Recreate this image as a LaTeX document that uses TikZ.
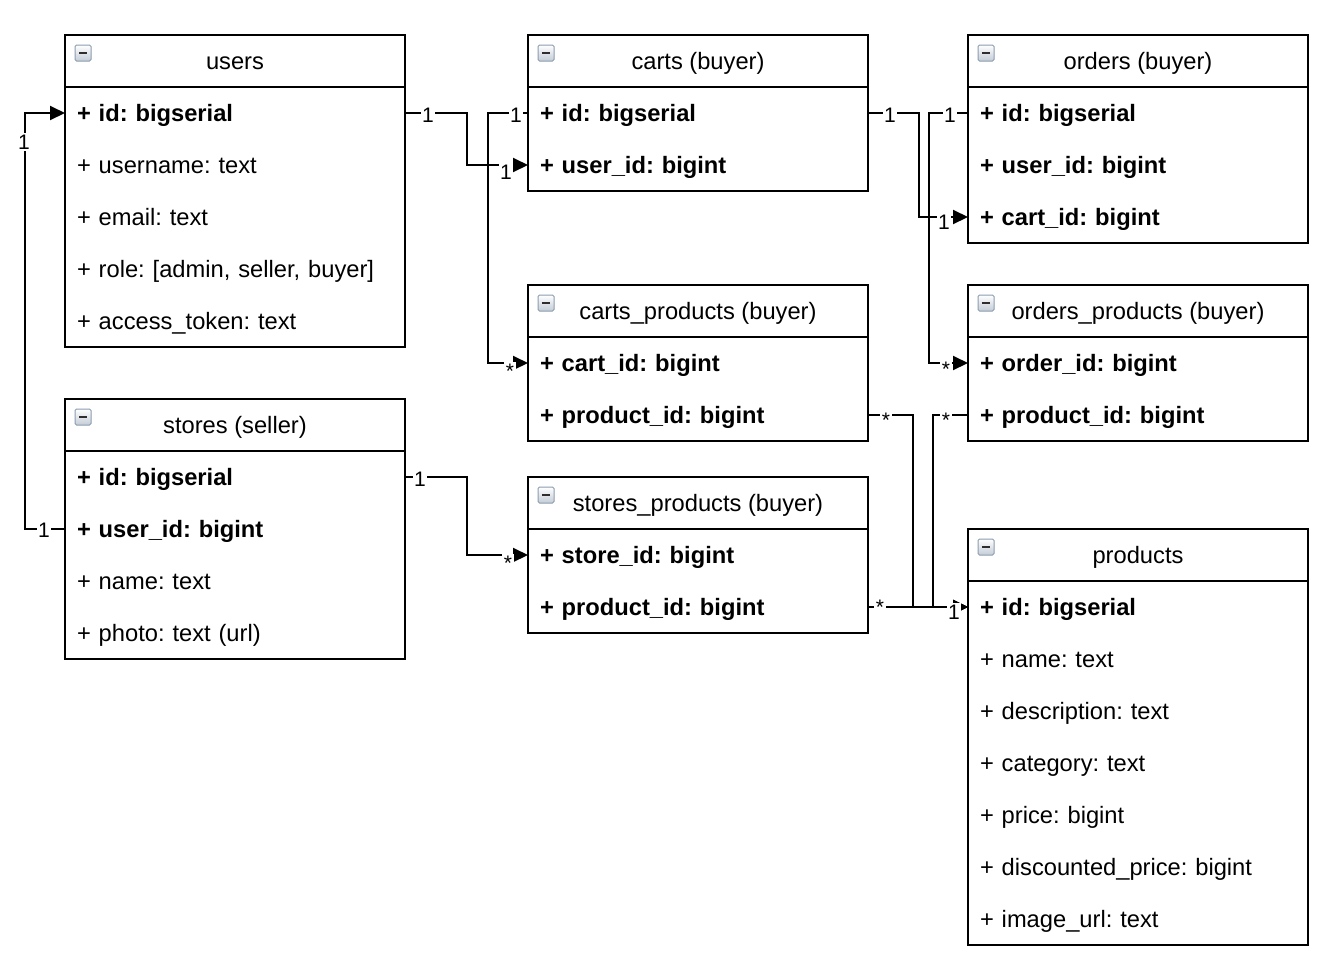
\documentclass[tikz,border=0pt]{standalone}
\usepackage{fontspec}
\setmainfont{Liberation Sans}
\usetikzlibrary{arrows.meta,positioning}
\newcommand{\erfont}{\fontsize{23.7}{28}\selectfont}
\newcommand{\erlblfont}{\fontsize{21}{24}\selectfont}
\definecolor{icb}{HTML}{8C9CB0}
\definecolor{icg}{HTML}{C4CCD6}
\definecolor{icm}{HTML}{2E2E2E}
\newcommand{\ericon}[1]{%
  \draw[draw=icb, top color=white, bottom color=icg, rounded corners=1.5pt, line width=1pt]
    ([shift={(10,10)}]#1.north west) rectangle ++(16,16);
  \fill[icm] ([shift={(14,16.8)}]#1.north west) rectangle ++(8,2.6);}
\frenchspacing
\begin{document}
\begin{tikzpicture}[x=1pt,y=-1pt, outer sep=0pt,
  hdr/.style={draw, line width=2pt, minimum width=340pt, minimum height=52pt,
    inner sep=0pt, outer sep=0pt, anchor=north west, font=\erfont, text height=17pt, text depth=0pt},
  row/.style={minimum width=340pt, minimum height=52pt, inner xsep=12pt, inner ysep=0pt, outer sep=0pt,
    text width=316pt, align=left, font=\erfont, text height=17pt, text depth=0pt},
  body/.style={draw, line width=2pt},
  conn/.style={line width=2pt},
  arr/.style={conn, -{Triangle[length=15pt,width=14pt]}},
  lbl/.style={fill=white, inner sep=1.5pt, font=\erlblfont},
  starl/.style={lbl, yshift=-5pt}
]
\fill[white] (0,0) rectangle (1334,970);
\useasboundingbox (0,0) rectangle (1334,970);

% ---------- users
\node[hdr] (users) at (65,35) {users};
\node[row, below=0pt of users] (users-r1) {\textbf{+ id: bigserial}};
\node[row, below=0pt of users-r1] (users-r2) {+ username: text};
\node[row, below=0pt of users-r2] (users-r3) {+ email: text};
\node[row, below=0pt of users-r3] (users-r4) {+ role: [admin, seller, buyer]};
\node[row, below=0pt of users-r4] (users-r5) {+ access\_token: text};
\draw[body] (users-r1.north west) rectangle (users-r5.south east);
\ericon{users}

% ---------- stores
\node[hdr] (stores) at (65,399) {stores (seller)};
\node[row, below=0pt of stores] (stores-r1) {\textbf{+ id: bigserial}};
\node[row, below=0pt of stores-r1] (stores-r2) {\textbf{+ user\_id: bigint}};
\node[row, below=0pt of stores-r2] (stores-r3) {+ name: text};
\node[row, below=0pt of stores-r3] (stores-r4) {+ photo: text (url)};
\draw[body] (stores-r1.north west) rectangle (stores-r4.south east);
\ericon{stores}

% ---------- carts
\node[hdr] (carts) at (528,35) {carts (buyer)};
\node[row, below=0pt of carts] (carts-r1) {\textbf{+ id: bigserial}};
\node[row, below=0pt of carts-r1] (carts-r2) {\textbf{+ user\_id: bigint}};
\draw[body] (carts-r1.north west) rectangle (carts-r2.south east);
\ericon{carts}

% ---------- carts_products
\node[hdr] (cp) at (528,285) {carts\_products (buyer)};
\node[row, below=0pt of cp] (cp-r1) {\textbf{+ cart\_id: bigint}};
\node[row, below=0pt of cp-r1] (cp-r2) {\textbf{+ product\_id: bigint}};
\draw[body] (cp-r1.north west) rectangle (cp-r2.south east);
\ericon{cp}

% ---------- stores_products
\node[hdr] (sp) at (528,477) {stores\_products (buyer)};
\node[row, below=0pt of sp] (sp-r1) {\textbf{+ store\_id: bigint}};
\node[row, below=0pt of sp-r1] (sp-r2) {\textbf{+ product\_id: bigint}};
\draw[body] (sp-r1.north west) rectangle (sp-r2.south east);
\ericon{sp}

% ---------- orders
\node[hdr] (orders) at (968,35) {orders (buyer)};
\node[row, below=0pt of orders] (orders-r1) {\textbf{+ id: bigserial}};
\node[row, below=0pt of orders-r1] (orders-r2) {\textbf{+ user\_id: bigint}};
\node[row, below=0pt of orders-r2] (orders-r3) {\textbf{+ cart\_id: bigint}};
\draw[body] (orders-r1.north west) rectangle (orders-r3.south east);
\ericon{orders}

% ---------- orders_products
\node[hdr] (op) at (968,285) {orders\_products (buyer)};
\node[row, below=0pt of op] (op-r1) {\textbf{+ order\_id: bigint}};
\node[row, below=0pt of op-r1] (op-r2) {\textbf{+ product\_id: bigint}};
\draw[body] (op-r1.north west) rectangle (op-r2.south east);
\ericon{op}

% ---------- products
\node[hdr] (products) at (968,529) {products};
\node[row, below=0pt of products] (products-r1) {\textbf{+ id: bigserial}};
\node[row, below=0pt of products-r1] (products-r2) {+ name: text};
\node[row, below=0pt of products-r2] (products-r3) {+ description: text};
\node[row, below=0pt of products-r3] (products-r4) {+ category: text};
\node[row, below=0pt of products-r4] (products-r5) {+ price: bigint};
\node[row, below=0pt of products-r5] (products-r6) {+ discounted\_price: bigint};
\node[row, below=0pt of products-r6] (products-r7) {+ image\_url: text};
\draw[body] (products-r1.north west) rectangle (products-r7.south east);
\ericon{products}

% ---------- connectors
\draw[arr] (users-r1.east) -- ++(62,0) |- (carts-r2.west);
\draw[arr] (carts-r1.west) -- ++(-40,0) |- (cp-r1.west);
\draw[arr] (carts-r1.east) -- ++(51,0) |- (orders-r3.west);
\draw[arr] (orders-r1.west) -- ++(-39,0) |- (op-r1.west);
\draw[arr] (cp-r2.east) -- ++(45,0) |- (products-r1.west);
\draw[arr] (op-r2.west) -- ++(-35,0) |- (products-r1.west);
\draw[arr] (sp-r2.east) -- (products-r1.west);
\draw[arr] (stores-r1.east) -- ++(62,0) |- (sp-r1.west);
\draw[arr] (stores-r2.west) -- ++(-40,0) |- (users-r1.west);

% ---------- labels
\node[lbl] (l1s) at (428,115) {1};
\node[lbl] (l1t) at (506,172) {1};
\node[lbl] (l2s) at (516,115) {1};
\node[starl] (l2t) at (510,366) {*};
\node[lbl] (l3s) at (890,115) {1};
\node[lbl] (l3t) at (944,222) {1};
\node[lbl] (l4s) at (950,115) {1};
\node[starl] (l4t) at (946,364) {*};
\node[starl] (l5s) at (886,415) {*};
\node[starl] (l6s) at (946,415) {*};
\node[starl] (l7s) at (880,602) {*};
\node[lbl] (l7t) at (954,612) {1};
\node[lbl] (l8s) at (420,479) {1};
\node[starl] (l8t) at (508,558) {*};
\node[lbl] (l9s) at (44,530) {1};
\node[lbl] (l9t) at (24,142) {1};
\end{tikzpicture}
\end{document}
